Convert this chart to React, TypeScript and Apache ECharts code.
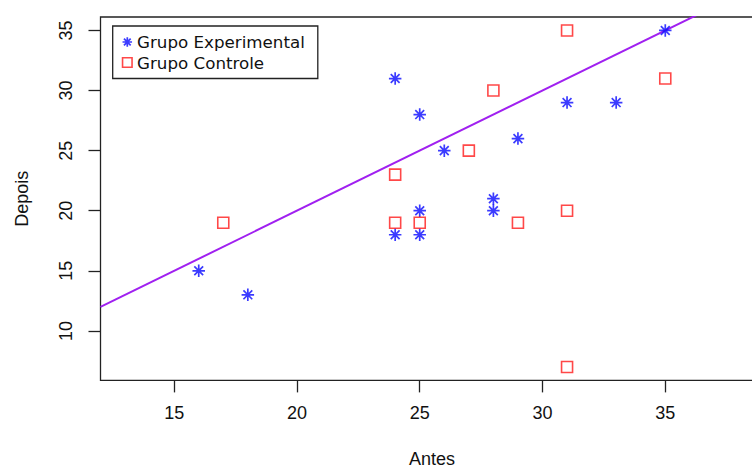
import React, { useEffect, useRef } from "react";
import * as echarts from "echarts";

// Data
const experimentalAntes = [16, 18, 24, 24, 25, 25, 25, 26, 28, 28, 29, 31, 33, 35];
const experimentalDepois = [15, 13, 31, 18, 28, 20, 18, 25, 21, 20, 26, 29, 29, 35];
const controleAntes = [17, 24, 24, 25, 27, 28, 29, 31, 31, 31, 35];
const controleDepois = [19, 23, 19, 19, 25, 30, 19, 35, 20, 7, 31];
const xTicks = [15, 20, 25, 30, 35];
const yTicks = [10, 15, 20, 25, 30, 35];
const xLimits = [12, 39];
const yLimits = [5.88, 36.12];
const refIntercept = 0;
const refSlope = 1;

const seriesNames = ["Grupo Experimental", "Grupo Controle"];

const ASTERISK =
  "path://M-1,0L1,0M0,-1L0,1M-0.7071,-0.7071L0.7071,0.7071M-0.7071,0.7071L0.7071,-0.7071";

const BLUE = "#0a0aff";
const RED = "#ff1a1a";
const PURPLE = "#a020f0";
const INK = "#222";
const LABEL_FONT = "Liberation Sans";

export default function App() {
  const ref = useRef<HTMLDivElement>(null);

  useEffect(() => {
    if (!ref.current) return;
    const chart = echarts.init(ref.current, undefined, { renderer: "svg" });

    const expData = experimentalAntes.map((x, i) => [x, experimentalDepois[i]]);
    const ctlData = controleAntes.map((x, i) => [x, controleDepois[i]]);
    const lineData = xLimits.map((x) => [x, refIntercept + refSlope * x]);

    const asteriskStyle = { color: "transparent", borderColor: BLUE, borderWidth: 1.7 };
    const squareStyle = { color: "transparent", borderColor: RED, borderWidth: 1.6 };

    chart.setOption({
      animation: false,
      backgroundColor: "#fff",
      grid: {
        left: 100.5,
        top: 17,
        width: 663,
        height: 363.4,
        show: true,
        borderColor: INK,
        borderWidth: 1.3,
        backgroundColor: "transparent",
        outerBoundsMode: "none",
      },
      legend: {
        orient: "vertical",
        left: 112.7,
        top: 26,
        borderColor: INK,
        borderWidth: 1.3,
        backgroundColor: "#fff",
        padding: [7.5, 13, 7.5, 9],
        itemWidth: 9.5,
        itemHeight: 9.5,
        itemGap: 3.5,
        textStyle: { fontFamily: "DejaVu Sans", fontSize: 16.7, color: "#111" },
        data: [
          { name: seriesNames[0], icon: ASTERISK, itemStyle: asteriskStyle },
          { name: seriesNames[1], icon: "rect", itemStyle: squareStyle },
        ],
      },
      xAxis: {
        type: "value",
        min: xLimits[0],
        max: xLimits[1],
        axisLine: { show: false },
        splitLine: { show: false },
        axisTick: {
          show: true,
          inside: false,
          length: 12,
          customValues: xTicks,
          lineStyle: { color: INK, width: 1.3 },
        },
        axisLabel: {
          customValues: xTicks,
          fontFamily: LABEL_FONT,
          fontSize: 18,
          color: "#111",
          margin: 24,
        },
        name: "Antes",
        nameLocation: "middle",
        nameGap: 70,
        nameTextStyle: { fontFamily: LABEL_FONT, fontSize: 18, color: "#111" },
      },
      yAxis: {
        type: "value",
        min: yLimits[0],
        max: yLimits[1],
        axisLine: { show: false },
        splitLine: { show: false },
        axisTick: {
          show: true,
          inside: false,
          length: 12,
          customValues: yTicks,
          lineStyle: { color: INK, width: 1.3 },
        },
        axisLabel: {
          customValues: yTicks,
          rotate: 90,
          fontFamily: LABEL_FONT,
          fontSize: 18,
          color: "#111",
          margin: 26,
        },
        name: "Depois",
        nameLocation: "middle",
        nameGap: 70,
        nameTextStyle: { fontFamily: LABEL_FONT, fontSize: 18, color: "#111" },
      },
      series: [
        {
          name: seriesNames[0],
          type: "scatter",
          symbol: ASTERISK,
          symbolSize: 12.5,
          itemStyle: asteriskStyle,
          data: expData,
          z: 3,
        },
        {
          name: seriesNames[1],
          type: "scatter",
          symbol: "rect",
          symbolSize: 11,
          itemStyle: squareStyle,
          data: ctlData,
          z: 3,
        },
        {
          name: "Reta",
          type: "line",
          data: lineData,
          symbol: "none",
          clip: true,
          lineStyle: { color: PURPLE, width: 2 },
          z: 2,
        },
      ],
    });

    return () => chart.dispose();
  }, []);

  return (
    <div
      style={{
        position: "fixed",
        left: 0,
        top: 0,
        width: 752,
        height: 469,
        overflow: "hidden",
        background: "#fff",
      }}
    >
      <div ref={ref} style={{ width: 800, height: 469 }} />
    </div>
  );
}
